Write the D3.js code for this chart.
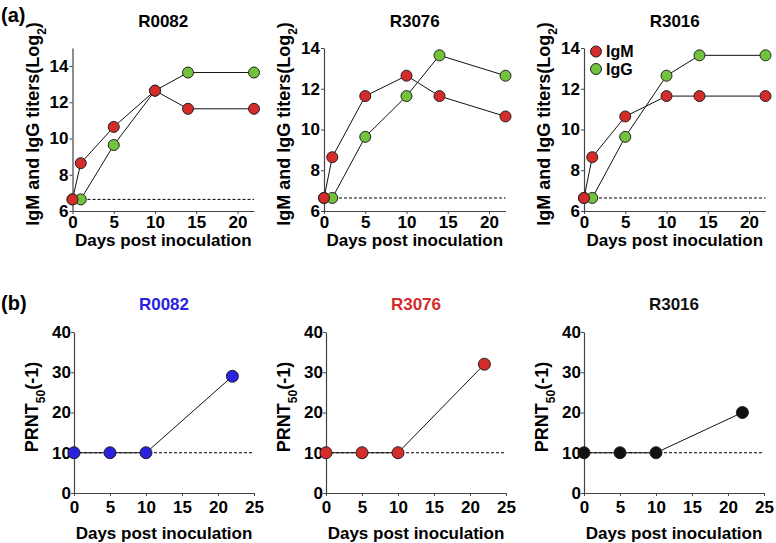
<!DOCTYPE html>
<html>
<head>
<meta charset="utf-8">
<script src="https://cdn.jsdelivr.net/npm/d3@7"></script>
<style>
body{margin:0;background:#fff;}
svg text{font-family:"Liberation Sans",Arial,sans-serif;}
</style>
</head>
<body>
<svg id="c" width="776" height="543"></svg>
<script>
const animals = ["R0082","R3076","R3016"];
const days = [0,1,5,10,14,22];
const igm = [
  [6.64,8.64,10.64,12.64,11.64,11.64],
  [6.64,8.64,11.64,12.64,11.64,10.64],
  [6.64,8.64,10.64,11.64,11.64,11.64]
];
const igg = [
  [6.64,6.64,9.64,12.64,13.64,13.64],
  [6.64,6.64,9.64,11.64,13.64,12.64],
  [6.64,6.64,9.64,12.64,13.64,13.64]
];
const topYMax = [15,14,14];
const topYTicks = [6,8,10,12,14];
const topXTicks = [0,5,10,15,20];
const cutoffTop = 6.64;

const prntDays = [0,5,10,22];
const prnt = [
  [10,10,10,29],
  [10,10,10,32],
  [10,10,10,20]
];
const botYTicks = [0,10,20,30,40];
const botXTicks = [0,5,10,15,20,25];
const cutoffBot = 10;

const seriesNames = ["IgM","IgG"];
const colIgM = "#d42b2b", colIgG = "#73c23c";
const prntColors = ["#2b22e0","#d42b2b","#111111"];
const titleColors = ["#2b22e0","#d42b2b","#111111"];

const svg = d3.select("#c");
const axisCol = "#444";

function styleAxis(g){
  g.selectAll("path").attr("stroke",axisCol).attr("stroke-width",1.2);
  g.selectAll("line").attr("stroke",axisCol).attr("stroke-width",1);
  g.selectAll("text").attr("fill","#000").style("font-size","17px").style("font-weight","bold");
}

const topLeft = [72.5,324,584];
const botLeft = [74,326,584];

// ---- Top row ----
animals.forEach((name,i)=>{
  const x = d3.scaleLinear().domain([0,22]).range([topLeft[i], topLeft[i]+181.5]);
  const y = d3.scaleLinear().domain([6,topYMax[i]]).range([211, topYMax[i]===15?47.9:48]);
  const g = svg.append("g");
  const gx = g.append("g").attr("transform",`translate(0,211)`)
    .call(d3.axisBottom(x).tickValues(topXTicks).tickSize(3).tickPadding(2).tickSizeOuter(0));
  styleAxis(gx);
  const gy = g.append("g").attr("transform",`translate(${topLeft[i]},0)`)
    .call(d3.axisLeft(y).tickValues(topYTicks).tickSize(3).tickPadding(1).tickSizeOuter(0));
  styleAxis(gy);
  g.append("line").attr("x1",x(0)).attr("x2",x(22)).attr("y1",y(cutoffTop)).attr("y2",y(cutoffTop))
    .attr("stroke","#000").attr("stroke-width",1).attr("stroke-dasharray","3,2");
  const line = d3.line().x((d,k)=>x(days[k])).y(d=>y(d));
  [[igg[i],colIgG],[igm[i],colIgM]].forEach(([vals,col])=>{
    g.append("path").attr("d",line(vals)).attr("fill","none").attr("stroke","#111").attr("stroke-width",1);
  });
  [[igg[i],colIgG],[igm[i],colIgM]].forEach(([vals,col])=>{
    g.selectAll(null).data(vals).enter().append("circle")
      .attr("cx",(d,k)=>x(days[k])).attr("cy",d=>y(d)).attr("r",5.5)
      .attr("fill",col).attr("stroke","#222").attr("stroke-width",1);
  });
  const cx = (x.range()[0]+x.range()[1])/2;
  g.append("text").attr("x",cx).attr("y",27).attr("text-anchor","middle")
    .style("font-size","17px").style("font-weight","bold").text(name);
  g.append("text").attr("x",cx).attr("y",246).attr("text-anchor","middle")
    .style("font-size","17px").style("font-weight","bold").text("Days post inoculation");
  const yl = g.append("text").attr("transform",`translate(${topLeft[i]-34},124) rotate(-90)`)
    .attr("text-anchor","middle").style("font-size","18px").style("font-weight","bold");
  yl.append("tspan").text("IgM and IgG titers(Log");
  yl.append("tspan").attr("baseline-shift","sub").style("font-size","12px").text("2");
  yl.append("tspan").text(")");
  if(i===2){
    const leg = g.append("g");
    [[seriesNames[0],colIgM,51.5],[seriesNames[1],colIgG,69]].forEach(([t,c,yy])=>{
      leg.append("circle").attr("cx",596).attr("cy",yy).attr("r",5.5).attr("fill",c).attr("stroke","#222");
      leg.append("text").attr("x",606).attr("y",yy+5.5).style("font-size","16px").style("font-weight","bold").text(t);
    });
  }
});

// ---- Bottom row ----
animals.forEach((name,i)=>{
  const x = d3.scaleLinear().domain([0,25]).range([botLeft[i], botLeft[i]+180]);
  const y = d3.scaleLinear().domain([0,40]).range([493,332]);
  const g = svg.append("g");
  const gx = g.append("g").attr("transform",`translate(0,493)`)
    .call(d3.axisBottom(x).tickValues(botXTicks).tickSize(3).tickPadding(5).tickSizeOuter(0));
  styleAxis(gx);
  const gy = g.append("g").attr("transform",`translate(${botLeft[i]},0)`)
    .call(d3.axisLeft(y).tickValues(botYTicks).tickSize(3).tickPadding(0).tickSizeOuter(0));
  styleAxis(gy);
  g.append("line").attr("x1",x(0)).attr("x2",x(25)).attr("y1",y(cutoffBot)).attr("y2",y(cutoffBot))
    .attr("stroke","#000").attr("stroke-width",1).attr("stroke-dasharray","3,2");
  const line = d3.line().x((d,k)=>x(prntDays[k])).y(d=>y(d));
  g.append("path").attr("d",line(prnt[i])).attr("fill","none").attr("stroke","#111").attr("stroke-width",1);
  g.selectAll(null).data(prnt[i]).enter().append("circle")
    .attr("cx",(d,k)=>x(prntDays[k])).attr("cy",d=>y(d)).attr("r",6)
    .attr("fill",prntColors[i]).attr("stroke","#222").attr("stroke-width",1);
  const cx = (x.range()[0]+x.range()[1])/2;
  g.append("text").attr("x",cx).attr("y",310).attr("text-anchor","middle").attr("fill",titleColors[i])
    .style("font-size","17px").style("font-weight","bold").text(name);
  g.append("text").attr("x",cx).attr("y",539).attr("text-anchor","middle")
    .style("font-size","17px").style("font-weight","bold").text("Days post inoculation");
  const yl = g.append("text").attr("transform",`translate(${botLeft[i]-36},407) rotate(-90)`)
    .attr("text-anchor","middle").style("font-size","18px").style("font-weight","bold");
  yl.append("tspan").text("PRNT");
  yl.append("tspan").attr("baseline-shift","sub").style("font-size","12px").text("50");
  yl.append("tspan").text("(-1)");
});

svg.append("text").attr("x",1).attr("y",22).style("font-size","20px").style("font-weight","bold").text("(a)");
svg.append("text").attr("x",1).attr("y",310).style("font-size","20px").style("font-weight","bold").text("(b)");
</script>
</body>
</html>
